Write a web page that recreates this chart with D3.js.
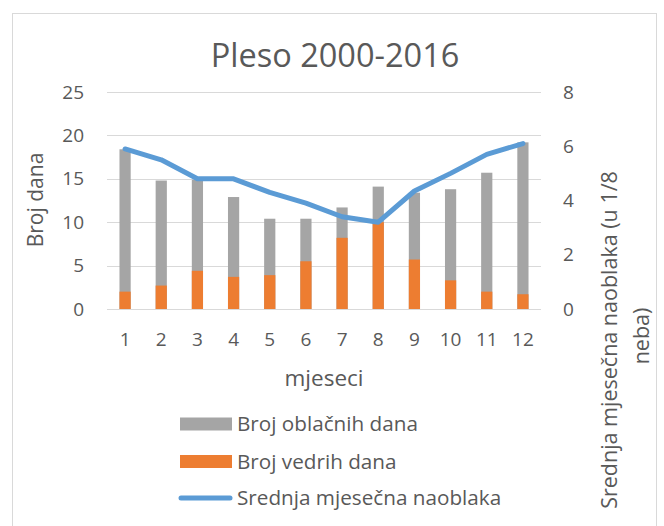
<!DOCTYPE html>
<html>
<head>
<meta charset="utf-8">
<script src="https://d3js.org/d3.v7.min.js"></script>
<style>
  body { margin: 0; background: #fff; }
  text { font-family: "Open Sans", sans-serif; fill: #595959; }
</style>
</head>
<body>
<div id="vis"></div>
<script>
const months = [1, 2, 3, 4, 5, 6, 7, 8, 9, 10, 11, 12];
const cloudyDays = [18.4, 14.8, 14.9, 12.9, 10.4, 10.4, 11.7, 14.1, 13.4, 13.8, 15.7, 19.2];
const clearDays = [2.0, 2.7, 4.4, 3.7, 3.9, 5.5, 8.2, 10.0, 5.7, 3.3, 2.0, 1.7];
const meanCloud = [5.9, 5.5, 4.8, 4.8, 4.3, 3.9, 3.4, 3.2, 4.35, 5.0, 5.7, 6.1];
const leftTicks = [0, 5, 10, 15, 20, 25];
const rightTicks = [0, 2, 4, 6, 8];

const W = 664, H = 526;
const plot = { left: 107, right: 541, top: 92, bottom: 309 };

const svg = d3.select("#vis")
  .append("svg")
  .attr("width", W)
  .attr("height", H);

// chart border (runs off the bottom)
svg.append("rect")
  .attr("x", 12.5)
  .attr("y", 13.5)
  .attr("width", 644)
  .attr("height", 540)
  .attr("fill", "#fff")
  .attr("stroke", "#d9d9d9")
  .attr("stroke-width", 1);

const x = d3.scaleBand()
  .domain(months)
  .range([plot.left, plot.right])
  .paddingInner(0.69)
  .paddingOuter(0.345);

const y = d3.scaleLinear()
  .domain([0, 25])
  .range([plot.bottom, plot.top]);

const y2 = d3.scaleLinear()
  .domain([0, 8])
  .range([plot.bottom, plot.top]);

// gridlines
svg.append("g")
  .selectAll("line")
  .data(leftTicks)
  .join("line")
  .attr("x1", plot.left)
  .attr("x2", plot.right)
  .attr("y1", d => Math.round(y(d)) + 0.5)
  .attr("y2", d => Math.round(y(d)) + 0.5)
  .attr("stroke", "#d9d9d9")
  .attr("stroke-width", 1);

// left axis labels
svg.append("g")
  .selectAll("text")
  .data(leftTicks)
  .join("text")
  .attr("x", 84)
  .attr("y", d => y(d))
  .attr("dy", "0.35em")
  .attr("text-anchor", "end")
  .attr("font-size", "19px")
  .text(d => d);

// right axis labels
svg.append("g")
  .selectAll("text")
  .data(rightTicks)
  .join("text")
  .attr("x", 563)
  .attr("y", d => y2(d))
  .attr("dy", "0.35em")
  .attr("text-anchor", "start")
  .attr("font-size", "19px")
  .text(d => d);

// month labels
svg.append("g")
  .selectAll("text")
  .data(months)
  .join("text")
  .attr("x", d => x(d) + x.bandwidth() / 2)
  .attr("y", 339)
  .attr("dy", "0.35em")
  .attr("text-anchor", "middle")
  .attr("font-size", "19px")
  .text(d => d);

// bars: cloudy days behind, clear days in front
svg.append("g")
  .selectAll("rect")
  .data(months)
  .join("rect")
  .attr("x", d => x(d))
  .attr("y", (d, i) => y(cloudyDays[i]))
  .attr("width", x.bandwidth())
  .attr("height", (d, i) => y(0) - y(cloudyDays[i]))
  .attr("fill", "#a5a5a5");

svg.append("g")
  .selectAll("rect")
  .data(months)
  .join("rect")
  .attr("x", d => x(d))
  .attr("y", (d, i) => y(clearDays[i]))
  .attr("width", x.bandwidth())
  .attr("height", (d, i) => y(0) - y(clearDays[i]))
  .attr("fill", "#ed7d31");

// mean cloudiness line
svg.append("path")
  .datum(months)
  .attr("fill", "none")
  .attr("stroke", "#5b9bd5")
  .attr("stroke-width", 5)
  .attr("stroke-linecap", "round")
  .attr("stroke-linejoin", "round")
  .attr("d", d3.line()
    .x(d => x(d) + x.bandwidth() / 2)
    .y((d, i) => y2(meanCloud[i]))
  );

// title
svg.append("text")
  .attr("x", 335)
  .attr("y", 67)
  .attr("text-anchor", "middle")
  .attr("font-size", "32.5px")
  .text("Pleso 2000-2016");

// axis titles
svg.append("text")
  .attr("transform", "translate(43,200) rotate(-90)")
  .attr("text-anchor", "middle")
  .attr("font-size", "21px")
  .text("Broj dana");

svg.append("text")
  .attr("x", 324)
  .attr("y", 386)
  .attr("text-anchor", "middle")
  .attr("font-size", "22.5px")
  .text("mjeseci");

svg.append("text")
  .attr("transform", "translate(617,340) rotate(-90)")
  .attr("text-anchor", "middle")
  .attr("font-size", "21.5px")
  .text("Srednja mjesečna naoblaka (u 1/8");

svg.append("text")
  .attr("transform", "translate(649,336) rotate(-90)")
  .attr("text-anchor", "middle")
  .attr("font-size", "21.5px")
  .text("neba)");

// legend
const legendItems = [
  { label: "Broj oblačnih dana", color: "#a5a5a5", type: "rect" },
  { label: "Broj vedrih dana", color: "#ed7d31", type: "rect" },
  { label: "Srednja mjesečna naoblaka", color: "#5b9bd5", type: "line" }
];
const legendY = [424, 461.5, 498];

legendItems.forEach((item, i) => {
  if (item.type === "rect") {
    svg.append("rect")
      .attr("x", 180)
      .attr("y", legendY[i] - 6.5)
      .attr("width", 52)
      .attr("height", 13)
      .attr("fill", item.color);
  } else {
    svg.append("line")
      .attr("x1", 181)
      .attr("x2", 230)
      .attr("y1", legendY[i])
      .attr("y2", legendY[i])
      .attr("stroke", item.color)
      .attr("stroke-width", 5)
      .attr("stroke-linecap", "round");
  }
  svg.append("text")
    .attr("x", 237)
    .attr("y", legendY[i])
    .attr("dy", "0.35em")
    .attr("font-size", "20.7px")
    .text(item.label);
});
</script>
</body>
</html>
